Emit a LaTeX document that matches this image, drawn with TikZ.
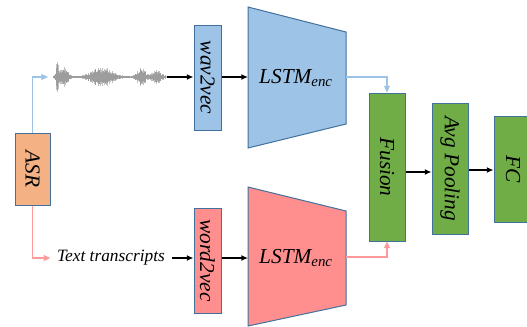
\documentclass[tikz,border=0pt]{standalone}
\usepackage{fontspec}
\setmainfont{Liberation Serif}
\usepackage{xcolor}
\usepackage{graphicx}
\usetikzlibrary{positioning, arrows.meta}
\definecolor{audioblue}{HTML}{9DC3E6}
\definecolor{edgeblue}{HTML}{41719C}
\definecolor{textpink}{HTML}{FF8F8F}
\definecolor{linkpink}{HTML}{FF9A9A}
\definecolor{asrorange}{HTML}{F4B183}
\definecolor{fusegreen}{HTML}{70AD47}

\begin{document}
\begin{tikzpicture}[x=0.75pt, y=-0.75pt,
    block/.style={draw=edgeblue, line width=0.75pt, inner sep=0pt,
                  font=\rmfamily\itshape\fontsize{16}{18}\selectfont},
    flow/.style={-{Latex[length=5pt, width=4.5pt]}, line width=1.1pt},
    feed/.style={-{Triangle[length=5pt, width=4.5pt]}, line width=0.8pt}]
  \useasboundingbox (0,0) rectangle (527,326);

  % input side
  \node[block, fill=asrorange, minimum width=26.25pt, minimum height=54pt]
    (asr) at (32.5,169) {\rotatebox{-90}{ASR}};
  \node[font=\rmfamily\itshape\fontsize{13}{15}\selectfont, inner sep=5pt]
    (transcripts) at (111,258) {Text transcripts};
  \coordinate (waveL) at (48,77);
  \coordinate (waveR) at (167,77);

  % speech waveform
  \pgfmathsetseed{42}
  \foreach \x in {53,53.5,...,166}{
    \pgfmathsetmacro\amp{(1+14*exp(-(\x-57)*(\x-57)/2)
      +10*exp(-(\x-64)*(\x-64)/30)+9*exp(-(\x-102)*(\x-102)/170)
      +9*exp(-(\x-141)*(\x-141)/22)+6*exp(-(\x-156)*(\x-156)/40))*(0.4+0.6*rnd)}
    \draw[black!55, opacity=0.45, line width=0.6pt] (\x,77-\amp) -- (\x,77+\amp);
  }

  % embedding boxes
  \node[block, fill=audioblue, minimum width=20.25pt, minimum height=78.75pt]
    (wavvec) at (207.5,77.5) {\rotatebox{-90}{wav2vec}};
  \node[block, fill=textpink, minimum width=20.25pt, minimum height=78.75pt]
    (wordvec) at (207.5,260.5) {\rotatebox{-90}{word2vec}};

  % encoders
  \draw[draw=edgeblue, line width=0.75pt, fill=audioblue]
    (248,7) -- (346,32) -- (346,124) -- (248,148) -- cycle;
  \draw[draw=edgeblue, line width=0.75pt, fill=textpink]
    (248,187) -- (346,211) -- (346,305) -- (248,326) -- cycle;
  \node[font=\rmfamily\itshape\fontsize{16}{18}\selectfont] (encA) at (296,78) {LSTM\textsubscript{enc}};
  \node[font=\rmfamily\itshape\fontsize{16}{18}\selectfont] (encB) at (296,258) {LSTM\textsubscript{enc}};
  \coordinate (inA) at (248,77);
  \coordinate (outA) at (346,77);
  \coordinate (inB) at (248,258);
  \coordinate (outB) at (346,257);

  % fusion and head
  \node[block, fill=fusegreen, minimum width=27pt, minimum height=111pt]
    (fusion) at (387,167) {\rotatebox{-90}{Fusion}};
  \node[block, fill=fusegreen, minimum width=27pt, minimum height=98.25pt]
    (pool) at (450,168.5) {\rotatebox{-90}{Avg Pooling}};
  \node[block, fill=fusegreen, minimum width=28.5pt, minimum height=79.5pt]
    (fc) at (513,169) {\rotatebox{-90}{FC}};

  % connectors
  \draw[feed, audioblue] (asr.north) |- (waveL);
  \draw[feed, linkpink] (asr.south) |- (transcripts.west);
  \draw[flow] (waveR) -- (wavvec.west |- waveR);
  \draw[flow] (transcripts.east) -- (transcripts.east -| wordvec.west);
  \draw[flow] (wavvec.east |- inA) -- (inA);
  \draw[flow] (wordvec.east |- inB) -- (inB);
  \draw[feed, audioblue] (outA) -| (fusion.north);
  \draw[feed, linkpink] (outB) -| (fusion.south);
  \draw[flow] (fusion.east |- 0,172) -- (pool.west |- 0,172);
  \draw[flow] (pool.east |- 0,170) -- (fc.west |- 0,170);
\end{tikzpicture}
\end{document}
